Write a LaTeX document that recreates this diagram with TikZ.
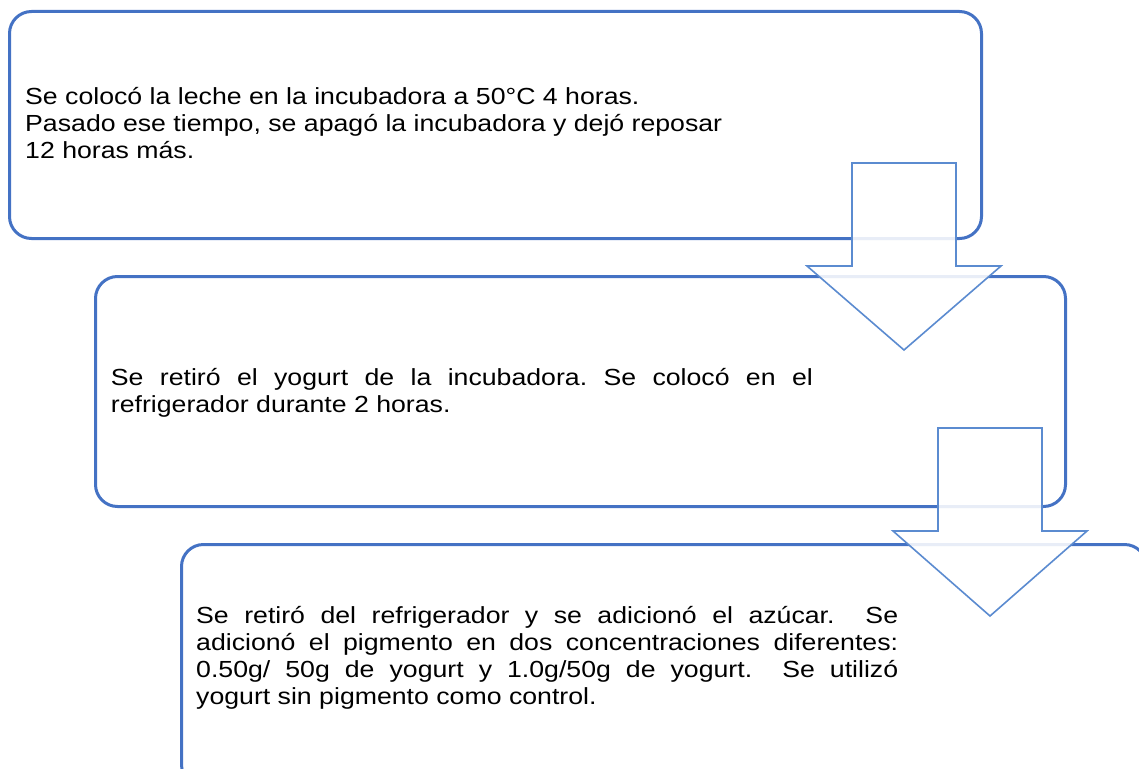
\documentclass[tikz,border=0pt]{standalone}
\usepackage{fontspec}
\setmainfont[FakeStretch=1.145]{Liberation Sans}
\definecolor{boxblue}{RGB}{68,114,196}
\definecolor{arrowblue}{RGB}{91,139,208}
\frenchspacing
\begin{document}
\begin{tikzpicture}[x=1pt,y=-1pt,
  stepbox/.style={draw=boxblue, line width=3pt, rounded corners=22pt, anchor=north west, inner sep=0pt},
  txt/.style={anchor=north west, inner sep=0pt, font=\fontsize{23.3}{27}\selectfont, align=left},
  blockarrow/.style={draw=arrowblue, line width=1.6pt, fill=white, fill opacity=0.88, line join=miter}
]
\useasboundingbox (0,0) rectangle (1139,768);
\clip (0,0) rectangle (1139,768);

% boxes
\node[stepbox, minimum width=972pt, minimum height=227pt] (b1) at (8,10) {};
\node[stepbox, minimum width=970pt, minimum height=230pt] (b2) at (94,275) {};
\node[stepbox, minimum width=965pt, minimum height=242pt] (b3) at (180,543) {};

% texts
\node[txt] (t1) at (25,84.5) {\rule{0pt}{20pt}Se colocó la leche en la incubadora a 50°C 4 horas.\\
Pasado ese tiempo, se apagó la incubadora y dejó reposar\\
12 horas más.};

\node[txt] (t2) at (110.7,365) {\rule{0pt}{20pt}\makebox[702pt][s]{Se retiró el yogurt de la incubadora. Se colocó en el}\\
refrigerador durante 2 horas.};

\node[txt] (t3) at (196,603) {\rule{0pt}{20pt}\makebox[702pt][s]{Se retiró del refrigerador y se adicionó el azúcar.~ Se}\\
\makebox[702pt][s]{adicionó el pigmento en dos concentraciones diferentes:}\\
\makebox[702pt][s]{0.50g/ 50g de yogurt y 1.0g/50g de yogurt.~ Se utilizó}\\
yogurt sin pigmento como control.};

% block arrows
\coordinate (a1) at (904,163);
\draw[blockarrow] (a1) ++(-52,0) -- ++(104,0) -- ++(0,103) -- ++(45,0) -- ++(-97,84) -- ++(-97,-84) -- ++(45,0) -- cycle;
\coordinate (a2) at (990,428);
\draw[blockarrow] (a2) ++(-52,0) -- ++(104,0) -- ++(0,103) -- ++(45,0) -- ++(-97,85) -- ++(-97,-85) -- ++(45,0) -- cycle;
\end{tikzpicture}
\end{document}
